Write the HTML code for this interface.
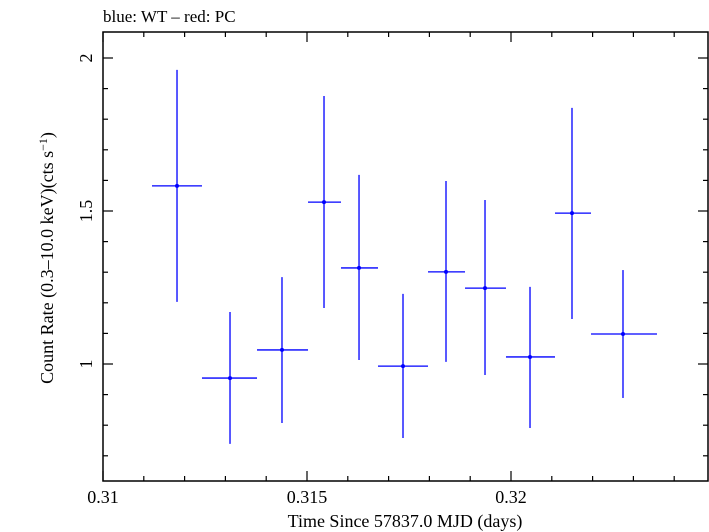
<!DOCTYPE html>
<html><head><meta charset="utf-8"><style>
body{margin:0;background:#fff}
svg{display:block;font-family:"Liberation Serif",serif}
</style></head><body>
<svg width="709" height="532" viewBox="0 0 709 532" xmlns="http://www.w3.org/2000/svg">
<text x="103" y="22" font-size="17">blue: WT – red: PC</text>
<rect x="103" y="32" width="605" height="449" fill="none" stroke="#000" stroke-width="1.5"/>
<g id="ticks"></g>
<g id="marks"></g>
<text x="405" y="527" font-size="18" text-anchor="middle">Time Since 57837.0 MJD (days)</text>
<text transform="translate(53,258) rotate(-90)" font-size="18" text-anchor="middle">Count Rate (0.3–10.0 keV)(cts s<tspan font-size="12" dy="-6">−1</tspan><tspan dy="6">)</tspan></text>
</svg>
<script>
const tStart=[0.311201,0.312426,0.313775,0.315025,0.315833,0.316740,0.317966,0.318873,0.319877,0.321078,0.321961];
const tEnd=[0.312426,0.313775,0.315025,0.315833,0.316740,0.317966,0.318873,0.319877,0.321078,0.321961,0.323578];
const tMid=[0.311814,0.313113,0.314387,0.315417,0.316275,0.317353,0.318407,0.319363,0.320466,0.321495,0.322745];
const rate=[1.582,0.954,1.046,1.529,1.314,0.993,1.301,1.248,1.023,1.493,1.098];
const rateHi=[1.961,1.170,1.284,1.876,1.618,1.229,1.598,1.536,1.252,1.837,1.307];
const rateLo=[1.203,0.739,0.807,1.183,1.013,0.758,1.007,0.964,0.791,1.147,0.889];
const xTickLabels=["0.31","0.315","0.32"];
const yTickLabels=["1","1.5","2"];
const NS="http://www.w3.org/2000/svg";
const X=t=>103+(t-0.31)*40800;
const Y=v=>364-(v-1)*306;
function mk(tag,attrs,parent){const e=document.createElementNS(NS,tag);for(const k in attrs)e.setAttribute(k,attrs[k]);parent.appendChild(e);return e;}
const tk=document.getElementById('ticks');
for(let i=0;i<=14;i++){const t=0.31+i*0.001;const x=X(t);if(x>707)break;const L=(i%5===0)?10:5;
 const a=mk('line',{x1:x,x2:x,y1:481,y2:481-L,stroke:'#000','stroke-width':1.2},tk);
 
 
 const b=mk('line',{x1:x,x2:x,y1:32,y2:32+L,stroke:'#000','stroke-width':1.2},tk);
 
 }
xTickLabels.forEach(s=>{const tx=mk('text',{x:X(parseFloat(s)),y:503,'font-size':18,'text-anchor':'middle'},tk);tx.textContent=s;
 
 });
for(let i=7;i<=20;i++){const v=i/10;const y=Y(v);if(y<33)break;const L=(i%5===0)?10:5;
 const a=mk('line',{x1:103,x2:103+L,y1:y,y2:y,stroke:'#000','stroke-width':1.2},tk);
 
 
 const b=mk('line',{x1:708,x2:708-L,y1:y,y2:y,stroke:'#000','stroke-width':1.2},tk);
 
 }
yTickLabels.forEach(s=>{const y=Y(parseFloat(s));const tx=mk('text',{transform:`translate(92,${y}) rotate(-90)`,'font-size':18,'text-anchor':'middle'},tk);tx.textContent=s;
 
 });
const mg=document.getElementById('marks');
rate.forEach((v,i)=>{const g=mk('g',{stroke:'#0000ff','stroke-width':1.3},mg);
 
 
 mk('line',{x1:X(tStart[i]),x2:X(tEnd[i]),y1:Y(v),y2:Y(v)},g);
 mk('line',{x1:X(tMid[i]),x2:X(tMid[i]),y1:Y(rateHi[i]),y2:Y(rateLo[i])},g);
 mk('circle',{cx:X(tMid[i]),cy:Y(v),r:2,fill:'#0000ff',stroke:'none'},g);});
</script>
</body></html>
